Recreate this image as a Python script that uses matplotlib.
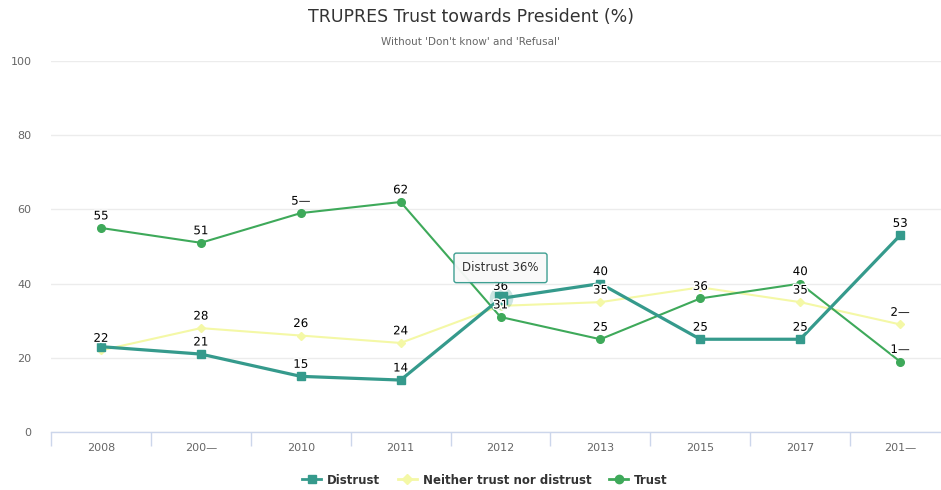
import matplotlib
matplotlib.use("Agg")
import matplotlib.pyplot as plt
from matplotlib.lines import Line2D
import matplotlib.patheffects as pe

categories = ["2008", "200\u2014", "2010", "2011", "2012", "2013", "2015", "2017", "201\u2014"]
distrust = [23, 21, 15, 14, 36, 40, 25, 25, 53]
neither = [22, 28, 26, 24, 34, 35, 39, 35, 29]
trust = [55, 51, 59, 62, 31, 25, 36, 40, 19]

distrust_labels = [None, "21", "15", "14", "36", "40", "25", "25", "53"]
neither_labels = ["22", "28", "26", "24", None, "35", None, "35", "2\u2014"]
trust_labels = ["55", "51", "5\u2014", "62", "31", "25", "36", "40", "1\u2014"]

tooltip_index = 4
tooltip_text = "Distrust 36%"

c_distrust = "#359a8c"
c_neither = "#f4f8a6"
c_trust = "#3ea95a"

plt.rcParams['font.family'] = ['DejaVu Sans']
fig = plt.figure(figsize=(9.41, 4.9), dpi=100)
ax = fig.add_axes([51/941, 58/490, 899/941, 371/490])
x = list(range(len(categories)))

ax.set_xlim(-0.5, len(categories) - 0.5)
ax.set_ylim(0, 100)
ax.set_yticks([0, 20, 40, 60, 80, 100])
ax.grid(axis='y', color='#ececec', linewidth=1)
ax.set_axisbelow(True)
for s in ['top', 'right', 'left']:
    ax.spines[s].set_visible(False)
ax.spines['bottom'].set_color('#ccd6eb')
ax.spines['bottom'].set_linewidth(1)
ax.tick_params(axis='y', length=0, pad=14, labelsize=8, labelcolor='#666666')
ax.set_xticks(x)
ax.set_xticklabels(categories, fontsize=8, color='#666666')
ax.set_xticks([i + 0.5 for i in range(-1, len(categories))], minor=True)
ax.tick_params(axis='x', which='major', length=0, pad=8)
ax.tick_params(axis='x', which='minor', length=10, color='#ccd6eb', width=1)
for lab in ax.get_yticklabels():
    lab.set_horizontalalignment('right')

ax.plot(x, neither, color=c_neither, lw=1.5, marker='D', ms=4.5, zorder=3)
ax.plot(x, trust, color=c_trust, lw=1.5, marker='o', ms=5.5, zorder=4)
ax.plot(x, distrust, color=c_distrust, lw=2.3, marker='s', ms=5.5, zorder=5)

# hovered point halo
ax.plot([tooltip_index], [distrust[tooltip_index]], marker='o', ms=17,
        color=c_distrust, alpha=0.25, mec='none', zorder=4.5)
ax.plot([tooltip_index], [distrust[tooltip_index]], marker='s', ms=8,
        color=c_distrust, zorder=6)

def labels(vals, labs):
    for i, (v, l) in enumerate(zip(vals, labs)):
        if l is None:
            continue
        ax.annotate(l, (i, v), xytext=(0, 4), textcoords='offset points',
                    ha='center', va='bottom', fontsize=8.5, color='#000000',
                    zorder=7,
                    path_effects=[pe.withStroke(linewidth=2, foreground='white')])

labels(neither, neither_labels)
labels(trust, trust_labels)
labels(distrust, distrust_labels)

ax.annotate(tooltip_text, (tooltip_index, distrust[tooltip_index]),
            xytext=(0, 22), textcoords='offset points', ha='center', va='center',
            fontsize=8.5, color='#333333', zorder=8,
            bbox=dict(boxstyle='round,pad=0.7,rounding_size=0.2', fc='#f9f9f9',
                      ec=c_distrust, lw=1, alpha=0.95))

fig.text(0.5, 1 - 17/490, "TRUPRES Trust towards President (%)", ha='center',
         va='center', fontsize=12.5, color='#333333')
fig.text(0.5, 1 - 42/490, "Without 'Don't know' and 'Refusal'", ha='center',
         va='center', fontsize=7.5, color='#666666')

handles = [
    Line2D([], [], color=c_distrust, lw=2, marker='s', ms=6),
    Line2D([], [], color=c_neither, lw=2, marker='D', ms=5),
    Line2D([], [], color=c_trust, lw=2, marker='o', ms=6),
]
leg = fig.legend(handles, ["Distrust", "Neither trust nor distrust", "Trust"],
                 loc='center', bbox_to_anchor=(485/941, 1 - 480/490), ncol=3,
                 frameon=False, fontsize=8.5, handlelength=1.6, columnspacing=1.5,
                 handletextpad=0.5)
for t in leg.get_texts():
    t.set_fontweight('bold')
    t.set_color('#333333')

fig.savefig("out.png", dpi=100)
